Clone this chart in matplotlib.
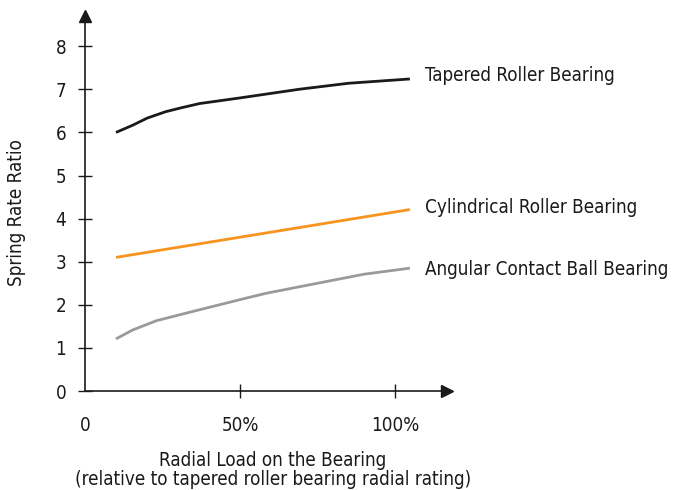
import numpy as np
import matplotlib.pyplot as plt

plt.rcParams['font.family'] = ['Liberation Sans Narrow', 'DejaVu Sans']
plt.rcParams['font.stretch'] = 'condensed'

# load as % of tapered roller bearing radial rating
x_tapered = [10, 15.5, 20, 26, 31, 37, 50, 69, 85, 104.8]
y_tapered = [6.0, 6.17, 6.33, 6.48, 6.57, 6.67, 6.80, 7.0, 7.14, 7.24]

x_cyl = [10, 104.8]
y_cyl = [3.10, 4.21]

x_ball = [10, 15.5, 23, 35, 50, 58.6, 75, 90, 104.8]
y_ball = [1.21, 1.42, 1.63, 1.85, 2.12, 2.27, 2.50, 2.71, 2.85]

labels = ['Tapered Roller Bearing', 'Cylindrical Roller Bearing', 'Angular Contact Ball Bearing']
label_y = [7.31, 4.25, 2.81]

xticks = [0, 50, 100]
xticklabels = ['0', '50%', '100%']
yticks = list(range(0, 9))

fs = 13.5

fig = plt.figure(figsize=(6.73, 4.9), dpi=100)
ax = fig.add_axes([85 / 673, 99 / 490, 362 / 673, 375 / 490])

ax.plot(x_tapered, y_tapered, color='#1a1a1a', linewidth=2.0, solid_capstyle='butt')
ax.plot(x_cyl, y_cyl, color='#f7941d', linewidth=2.0, solid_capstyle='butt')
ax.plot(x_ball, y_ball, color='#9a9a9a', linewidth=2.0, solid_capstyle='butt')

for lab, ly in zip(labels, label_y):
    ax.text(109.7, ly, lab, fontsize=fs, va='center', ha='left', color='#1a1a1a')

ax.set_xlim(0, 362 / 3.1)
ax.set_ylim(0, 375 / 43.1)
for s in ['top', 'right']:
    ax.spines[s].set_visible(False)
for s in ['left', 'bottom']:
    ax.spines[s].set_linewidth(1.2)
    ax.spines[s].set_color('#1a1a1a')

# arrow heads at the axis ends
ax.plot(1, 0, '>', color='#1a1a1a', markersize=8, transform=ax.transAxes, clip_on=False)
ax.plot(0, 1, '^', color='#1a1a1a', markersize=8, transform=ax.transAxes, clip_on=False)

ax.set_xticks(xticks)
ax.set_xticklabels(xticklabels)
ax.set_yticks(yticks)
ax.tick_params(axis='both', direction='inout', length=10, width=1.0, colors='#1a1a1a', labelsize=fs)
ax.tick_params(axis='y', pad=8.5)
ax.tick_params(axis='x', pad=13)
ax.xaxis.get_major_ticks()[0].tick1line.set_visible(False)

fig.text(273 / 673, 1 - 460 / 490, 'Radial Load on the Bearing', fontsize=fs, ha='center', va='center', color='#1a1a1a')
fig.text(273 / 673, 1 - 479 / 490, '(relative to tapered roller bearing radial rating)', fontsize=fs,
         ha='center', va='center', color='#1a1a1a')
fig.text(17 / 673, 1 - 213 / 490, 'Spring Rate Ratio', fontsize=fs, rotation=90, ha='center', va='center',
         color='#1a1a1a')

fig.savefig('out.png', dpi=100)
